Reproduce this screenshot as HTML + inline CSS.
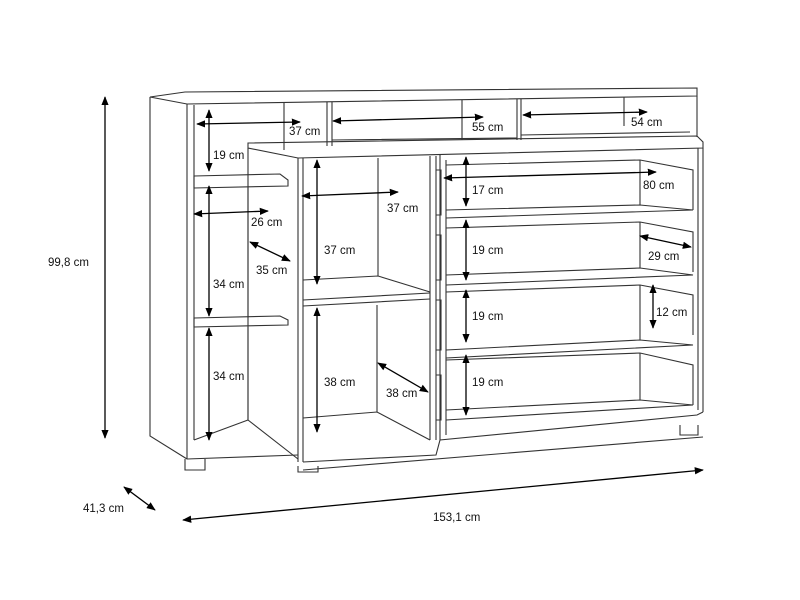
<!DOCTYPE html>
<html><head><style>
html,body{margin:0;padding:0;background:#fff;}
svg{display:block;}
text{font-family:"Liberation Sans",sans-serif;font-size:11.5px;fill:#111;}
</style></head><body>
<svg width="800" height="600" viewBox="0 0 800 600" xmlns="http://www.w3.org/2000/svg">
<defs>
<marker id="a" viewBox="0 0 10 10" refX="9" refY="5" markerWidth="7" markerHeight="7" orient="auto-start-reverse"><path d="M0,1 L10,5 L0,9 z" fill="#000"/></marker>
</defs>
<g fill="none" stroke="#333" stroke-width="1.1">
<!-- upper back unit -->
<path d="M150,97 L185,92 L697,88 L697,96 L187,104 L150,97 Z"/>
<path d="M150,97 L150,436 L187,459"/>
<path d="M187,104 L187,459"/>
<path d="M194,105 L194,440"/>
<path d="M697,96 L697,137"/>
<path d="M284,103 L284,150"/>
<path d="M327,102 L327,146 M332,102 L332,146"/>
<path d="M462,100 L462,140"/>
<path d="M517,99 L517,140 M521,99 L521,140"/>
<path d="M624,97 L624,126"/>
<path d="M332,140 L517,138 M521,135 L690,132"/>
<!-- lower front body top -->
<path d="M248,143 L697,136 L703,142 L703,148 L298,158 L248,148 Z"/>
<path d="M248,148 L248,420 L298,459"/>
<path d="M298,158 L298,462 M303,158 L303,462"/>
<path d="M698,148 L698,410 M703,148 L703,412"/>
<!-- left shelves -->
<path d="M194,176 L280,174 L288,180 L288,186 L194,188 Z"/>
<path d="M194,318 L280,316 L288,320 L288,325 L194,327 Z"/>
<path d="M248,186 L248,318 M248,327 L248,420"/>
<path d="M194,440 L248,420"/>
<path d="M187,459 L298,455"/>
<!-- center compartment -->
<path d="M378,158 L378,276"/>
<path d="M303,280 L378,276 L430,292"/>
<path d="M303,300 L430,293 M303,306 L430,299"/>
<path d="M377,305 L377,412"/>
<path d="M303,418 L377,412 L430,440"/>
<!-- door -->
<path d="M430,156 L430,440 M436,156 L436,440"/>
<path d="M303,462 L436,455 L440,440 L697,415 L703,412"/>
<path d="M303,470 L703,437"/>
<!-- drawers -->
<path d="M440,155 L440,440 M446,160 L446,435"/>
<path d="M446,165 L640,160 L693,170 L693,210"/>
<path d="M446,210 L640,205 L693,210 L446,218"/>
<path d="M446,228 L640,222 L693,232 L693,272"/>
<path d="M446,275 L640,268 L693,275 L446,285"/>
<path d="M446,292 L640,285 L693,295 L693,335"/>
<path d="M446,350 L640,340 L693,345 L446,358"/>
<path d="M446,360 L640,353 L693,365 L693,405"/>
<path d="M446,410 L640,400 L693,405 L446,420"/>
<path d="M640,160 L640,205 M640,222 L640,268 M640,285 L640,340 M640,353 L640,400"/>
<path d="M436,170 L441,170 L441,215 L436,215 M436,235 L441,235 L441,280 L436,280 M436,300 L441,300 L441,350 L436,350 M436,375 L441,375 L441,420 L436,420"/>
<!-- feet -->
<path d="M185,459 L185,470 L205,470 L205,459"/>
<path d="M298,466 L298,472 L318,472 L318,466"/>
<path d="M680,425 L680,435 L698,435 L698,425"/>
</g>
<g stroke="#000" stroke-width="1.3" fill="none" marker-start="url(#a)" marker-end="url(#a)">
<line x1="105" y1="97" x2="105" y2="438"/>
<line x1="124" y1="487" x2="155" y2="510"/>
<line x1="183" y1="520" x2="703" y2="470"/>
<line x1="197" y1="124" x2="300" y2="122"/>
<line x1="333" y1="121" x2="483" y2="117"/>
<line x1="523" y1="115" x2="647" y2="112"/>
<line x1="209" y1="110" x2="209" y2="171"/>
<line x1="194" y1="214" x2="268" y2="211"/>
<line x1="250" y1="242" x2="290" y2="261"/>
<line x1="209" y1="186" x2="209" y2="316"/>
<line x1="209" y1="328" x2="209" y2="440"/>
<line x1="317" y1="160" x2="317" y2="284"/>
<line x1="302" y1="196" x2="398" y2="192"/>
<line x1="317" y1="308" x2="317" y2="432"/>
<line x1="378" y1="363" x2="428" y2="392"/>
<line x1="466" y1="157" x2="466" y2="206"/>
<line x1="444" y1="178" x2="656" y2="172"/>
<line x1="466" y1="220" x2="466" y2="280"/>
<line x1="640" y1="236" x2="691" y2="247"/>
<line x1="466" y1="290" x2="466" y2="342"/>
<line x1="653" y1="285" x2="653" y2="328"/>
<line x1="466" y1="355" x2="466" y2="415"/>
</g>
<g>
<text x="48" y="266">99,8 cm</text>
<text x="83" y="512">41,3 cm</text>
<text x="433" y="521">153,1 cm</text>
<text x="289" y="135">37 cm</text>
<text x="472" y="131">55 cm</text>
<text x="631" y="126">54 cm</text>
<text x="213" y="159">19 cm</text>
<text x="251" y="226">26 cm</text>
<text x="256" y="274">35 cm</text>
<text x="213" y="288">34 cm</text>
<text x="213" y="380">34 cm</text>
<text x="387" y="212">37 cm</text>
<text x="324" y="254">37 cm</text>
<text x="324" y="386">38 cm</text>
<text x="386" y="397">38 cm</text>
<text x="472" y="194">17 cm</text>
<text x="643" y="189">80 cm</text>
<text x="472" y="254">19 cm</text>
<text x="648" y="260">29 cm</text>
<text x="472" y="320">19 cm</text>
<text x="656" y="316">12 cm</text>
<text x="472" y="386">19 cm</text>
</g>
</svg>
</body></html>
